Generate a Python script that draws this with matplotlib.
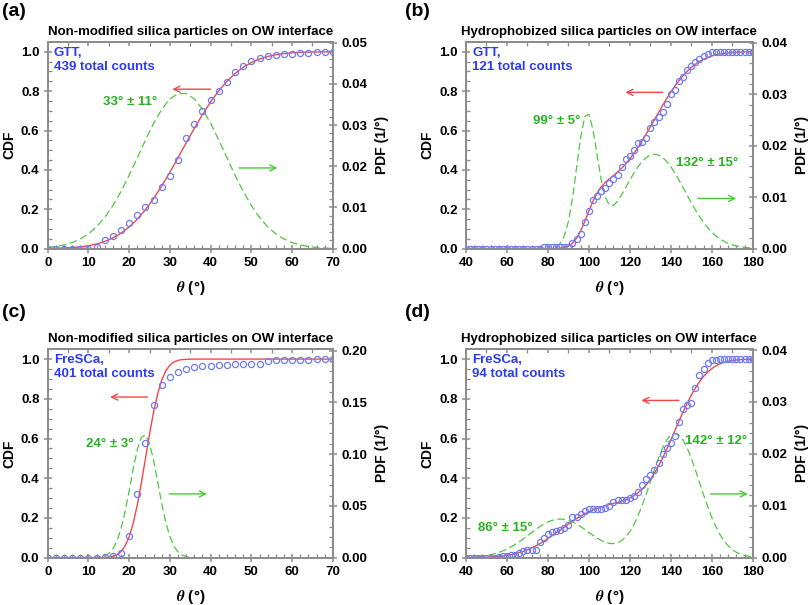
import matplotlib
matplotlib.use("Agg")
import matplotlib.pyplot as plt
import numpy as np
from matplotlib.ticker import MultipleLocator

plt.rcParams['font.family'] = ['Liberation Sans', 'DejaVu Sans']
plt.rcParams['font.weight'] = 'bold'
plt.rcParams['axes.labelweight'] = 'bold'
plt.rcParams['mathtext.fontset'] = 'stix'

# ---------------- data ----------------
# (a) GTT, non-modified silica
theta_a = np.arange(0, 71, 2)
cdf_a = [0, 0, 0, 0, 0, 0, 0.01, 0.042, 0.066, 0.096, 0.13, 0.173, 0.21, 0.247,
         0.313, 0.369, 0.448, 0.563, 0.631, 0.697, 0.755, 0.802, 0.846, 0.895,
         0.926, 0.953, 0.968, 0.98, 0.986, 0.99, 0.991, 0.993, 0.995, 0.997,
         0.998, 1.0]
fit_a = [0.0009, 0.0017, 0.0031, 0.0054, 0.0092, 0.015, 0.0238, 0.0366, 0.0544,
         0.0785, 0.1101, 0.1497, 0.1979, 0.2546, 0.3186, 0.3886, 0.4624, 0.5376,
         0.6114, 0.6814, 0.7454, 0.8021, 0.8503, 0.8899, 0.9215, 0.9456, 0.9634,
         0.9762, 0.985, 0.9908, 0.9946, 0.9969, 0.9983, 0.9991, 0.9995, 0.9998]
pdf_a = [0.0003, 0.00053, 0.0009, 0.00148, 0.00234, 0.00359, 0.00531, 0.00759,
         0.01045, 0.01389, 0.01782, 0.02206, 0.02636, 0.0304, 0.03382, 0.03631,
         0.03763, 0.03763, 0.03631, 0.03382, 0.0304, 0.02636, 0.02206, 0.01782,
         0.01389, 0.01045, 0.00759, 0.00531, 0.00359, 0.00234, 0.00148, 0.0009,
         0.00053, 0.0003, 0.00016, 0.00009]

# (b) GTT, hydrophobized silica
theta_b = np.arange(40, 181, 2)
cdf_b = [0] * 19 + [0.008, 0.008, 0.008, 0.008, 0.008, 0.008, 0.008, 0.027,
         0.047, 0.073, 0.134, 0.19, 0.247, 0.267, 0.294, 0.306, 0.333, 0.355,
         0.376, 0.416, 0.453, 0.472, 0.503, 0.536, 0.54, 0.563, 0.612, 0.645,
         0.667, 0.694, 0.736, 0.785, 0.804, 0.851, 0.87, 0.905, 0.926, 0.948,
         0.964, 0.978, 0.99] + [1.0] * 11
fit_b = [0] * 18 + [0.0001, 0.0001, 0.0002, 0.0004, 0.0009, 0.0022, 0.0055,
         0.0129, 0.0277, 0.0531, 0.0907, 0.1385, 0.1909, 0.2407, 0.2822, 0.3137,
         0.3367, 0.3548, 0.3715, 0.389, 0.4086, 0.431, 0.4562, 0.4842, 0.5149,
         0.5478, 0.5825, 0.6185, 0.655, 0.6915, 0.7275, 0.7622, 0.7951, 0.8258,
         0.8538, 0.879, 0.9013, 0.9206, 0.9371, 0.9509, 0.9622, 0.9714, 0.9786,
         0.9843, 0.9887, 0.9919, 0.9943, 0.9961, 0.9974, 0.9982, 0.9988, 0.9993,
         0.9995]
pdf_b = [0] * 18 + [0.00002, 0.00003, 0.00006, 0.00015, 0.00039, 0.00101,
         0.00245, 0.00525, 0.0098, 0.01574, 0.02169, 0.02565, 0.02612, 0.02314,
         0.01822, 0.01337, 0.00999, 0.00846, 0.00838, 0.00921, 0.01047, 0.01187,
         0.01332, 0.01469, 0.01592, 0.01694, 0.01771, 0.01819, 0.01835, 0.01819,
         0.01771, 0.01694, 0.01592, 0.01469, 0.01332, 0.01187, 0.01039, 0.00893,
         0.00754, 0.00626, 0.0051, 0.00409, 0.00322, 0.00248, 0.00188, 0.00141,
         0.00103, 0.00074, 0.00052, 0.00036, 0.00025, 0.00017, 0.00011]

# (c) FreSCa, non-modified silica
theta_c = np.arange(0, 71, 2)
cdf_c = [0] * 7 + [0.005, 0.008, 0.025, 0.107, 0.323, 0.58, 0.767, 0.871, 0.91,
         0.936, 0.949, 0.958, 0.963, 0.966, 0.97, 0.971, 0.973, 0.975, 0.975,
         0.975, 0.992, 0.993, 0.995, 0.997, 0.997, 0.997, 0.998, 0.998, 1.0]
theta_c_fit = [0, 5, 10, 12, 13, 14, 15, 16, 17, 18, 19, 20, 21, 22, 23, 24, 25,
               26, 27, 28, 29, 30, 31, 32, 33, 34, 35, 36, 38, 40, 50, 60, 70]
fit_c = [0, 0, 0.00001, 0.0001, 0.0003, 0.0009, 0.0025, 0.0062, 0.0144, 0.0304,
         0.0591, 0.1056, 0.1743, 0.266, 0.3773, 0.5, 0.6227, 0.734, 0.8257,
         0.8944, 0.9409, 0.9696, 0.9856, 0.9938, 0.9975, 0.9991, 0.9997, 0.9999,
         1, 1, 1, 1, 1]
pdf_c = [0, 0, 0.00003, 0.00027, 0.00073, 0.0018, 0.00408, 0.00847, 0.0161,
         0.028, 0.0445, 0.0647, 0.086, 0.1046, 0.1164, 0.1185, 0.1104, 0.094,
         0.0733, 0.0522, 0.034, 0.0203, 0.0111, 0.00553, 0.00252, 0.00105, 0.0004,
         0.00014, 0.00002, 0, 0, 0, 0]

# (d) FreSCa, hydrophobized silica
theta_d = np.arange(40, 181, 2)
cdf_d = [0] * 8 + [0.003, 0.008, 0.01, 0.012, 0.014, 0.022, 0.034, 0.037, 0.037,
         0.037, 0.078, 0.098, 0.118, 0.129, 0.132, 0.14, 0.152, 0.164, 0.203,
         0.206, 0.22, 0.237, 0.245, 0.247, 0.247, 0.247, 0.252, 0.26, 0.281,
         0.291, 0.291, 0.291, 0.3, 0.31, 0.33, 0.364, 0.398, 0.416, 0.44, 0.479,
         0.523, 0.552, 0.577, 0.613, 0.682, 0.75, 0.77, 0.778, 0.854, 0.919,
         0.949, 0.981, 0.993, 0.995] + [1.0] * 9
fit_d = [0.0003, 0.0005, 0.0007, 0.0011, 0.0016, 0.0023, 0.0033, 0.0046, 0.0064,
         0.0087, 0.0116, 0.0153, 0.0199, 0.0255, 0.0322, 0.0401, 0.0491, 0.0593,
         0.0707, 0.0831, 0.0965, 0.1106, 0.1252, 0.14, 0.1548, 0.1694, 0.1835,
         0.1969, 0.2094, 0.2208, 0.2311, 0.2402, 0.2484, 0.2555, 0.2618, 0.2675,
         0.2729, 0.2784, 0.2845, 0.2918, 0.3008, 0.3121, 0.3265, 0.3446, 0.3669,
         0.3938, 0.4254, 0.4618, 0.5021, 0.546, 0.5923, 0.64, 0.6877, 0.734,
         0.7779, 0.8183, 0.8543, 0.8857, 0.9124, 0.9343, 0.9519, 0.9656, 0.976,
         0.9836, 0.9891, 0.9929, 0.9955, 0.9972, 0.9983, 0.999, 0.9994]
pdf_d = [0.00007, 0.0001, 0.00015, 0.00021, 0.0003, 0.00042, 0.00057, 0.00077,
         0.00101, 0.00131, 0.00166, 0.00207, 0.00254, 0.00306, 0.00363, 0.00422,
         0.00482, 0.00541, 0.00597, 0.00646, 0.00688, 0.00719, 0.00738, 0.00745,
         0.00738, 0.00719, 0.00688, 0.00647, 0.00598, 0.00544, 0.00487, 0.00431,
         0.00379, 0.00333, 0.00297, 0.00275, 0.00271, 0.00288, 0.0033, 0.004,
         0.00503, 0.00639, 0.00807, 0.01005, 0.01227, 0.01461, 0.01698, 0.0192,
         0.02114, 0.02265, 0.02361, 0.02393, 0.0236, 0.02264, 0.02112, 0.01916,
         0.01691, 0.01451, 0.01212, 0.00984, 0.00777, 0.00597, 0.00446, 0.00324,
         0.00229, 0.00157, 0.00105, 0.00068, 0.00043, 0.00027, 0.00016]

titles = ['Non-modified silica particles on OW interface',
          'Hydrophobized silica particles on OW interface',
          'Non-modified silica particles on OW interface',
          'Hydrophobized silica particles on OW interface']
counts_text = ['GTT,\n439 total counts', 'GTT,\n121 total counts',
               'FreSCa,\n401 total counts', 'FreSCa,\n94 total counts']

# colours
c_blue_txt = '#2b3cf2'
c_circle = '#6f7bf5'
c_red = '#f24848'
c_green = '#4cc83c'
c_green_txt = '#27b31f'
c_gray = '#8c8c8c'

fig = plt.figure(figsize=(8.1, 6.05), dpi=100)

rects = [[0.0589, 0.589, 0.352, 0.342],
         [0.5753, 0.589, 0.354, 0.342],
         [0.0589, 0.0782, 0.352, 0.345],
         [0.5753, 0.0782, 0.354, 0.345]]


def setup_axes(rect, xlim, xmaj, xmin_bot, xmin_top, pdf_top, pdf_maj, pdf_min):
    ax = fig.add_axes(rect)
    ax.set_xlim(*xlim)
    ax.set_ylim(0, 1.051)
    ax.xaxis.set_major_locator(MultipleLocator(xmaj))
    ax.xaxis.set_minor_locator(MultipleLocator(xmin_bot))
    ax.yaxis.set_major_locator(MultipleLocator(0.2))
    ax.yaxis.set_minor_locator(MultipleLocator(0.05))
    ax.yaxis.set_major_formatter(lambda v, p: f'{v:.1f}')
    ax2 = ax.twinx()
    ax2.set_ylim(0, pdf_top)
    ax2.yaxis.set_major_locator(MultipleLocator(pdf_maj))
    ax2.yaxis.set_minor_locator(MultipleLocator(pdf_min))
    ax2.yaxis.set_major_formatter(lambda v, p: f'{v:.2f}')
    top = ax.secondary_xaxis('top')
    top.xaxis.set_major_locator(MultipleLocator(xmaj))
    top.xaxis.set_minor_locator(MultipleLocator(xmin_top))
    top.tick_params(labeltop=False)
    for a in (ax, ax2, top):
        for s in a.spines.values():
            s.set_color(c_gray)
            s.set_linewidth(1.3)
        a.tick_params(which='major', direction='inout', length=6, width=1.1,
                      color=c_gray, labelsize=9.5, pad=3)
        a.tick_params(which='minor', direction='in', length=3, width=0.9,
                      color=c_gray)
    top.tick_params(which='major', direction='in', length=3)
    ax.set_xlabel(r'$\theta$ (°)', fontsize=11, labelpad=7)
    ax.set_ylabel('CDF', fontsize=10, fontweight='bold', labelpad=3)
    ax2.set_ylabel('PDF (1/°)', fontsize=10, fontweight='bold', labelpad=6)
    ax.set_zorder(ax2.get_zorder() + 1)
    ax.patch.set_visible(False)
    return ax, ax2


panels = [
    (theta_a, cdf_a, theta_a, fit_a, pdf_a, (0, 70), 10, 2, 5, 0.0502, 0.01, 0.002),
    (theta_b, cdf_b, theta_b, fit_b, pdf_b, (40, 180), 20, 4, 10, 0.0402, 0.01, 0.002),
    (theta_c, cdf_c, theta_c_fit, fit_c, pdf_c, (0, 70), 10, 2, 5, 0.2016, 0.05, 0.01),
    (theta_d, cdf_d, theta_d, fit_d, pdf_d, (40, 180), 20, 4, 10, 0.0402, 0.01, 0.002),
]

# annotation positions: (peak label text, x, y), red arrow (x0, x1, y), green arrow (x0, x1, y)
peak_labels = [
    [('33° ± 11°', 20.3, 0.746)],
    [('99° ± 5°', 84.2, 0.65), ('132° ± 15°', 157.8, 0.433)],
    [('24° ± 3°', 15.3, 0.572)],
    [('86° ± 15°', 59.0, 0.152), ('142° ± 12°', 162.1, 0.589)],
]
red_arrows = [(40.0, 30.6, 0.81), (136.1, 117.8, 0.794),
              (24.5, 15.3, 0.809), (144.0, 125.6, 0.792)]
green_arrows = [(47.0, 56.4, 0.41), (153.2, 171.9, 0.255),
                (29.8, 39.1, 0.321), (159.4, 177.6, 0.321)]
letters = ['(a)', '(b)', '(c)', '(d)']
letter_pos = [(0.002, 0.995), (0.5, 0.995), (0.002, 0.497), (0.5, 0.497)]

for i, p in enumerate(panels):
    th, cdf, thf, fit, pdf, xlim, xmaj, xminb, xmint, ptop, pmaj, pmin = p
    ax, ax2 = setup_axes(rects[i], xlim, xmaj, xminb, xmint, ptop, pmaj, pmin)
    ax2.plot(thf, pdf, color=c_green, lw=0.9, ls=(0, (6, 3)))
    ax.plot(thf, fit, color=c_red, lw=1.0)
    ax.plot(th, cdf, 'o', mfc='none', mec=c_circle, ms=4.4, mew=0.9)
    ax.set_title(titles[i], fontsize=9.5, fontweight='bold', pad=5)
    ax.text(0.022, 0.975, counts_text[i], transform=ax.transAxes, ha='left',
            va='top', color=c_blue_txt, fontsize=9.5, fontweight='bold',
            linespacing=1.25)
    for txt, x, y in peak_labels[i]:
        ax.text(x, y, txt, ha='center', va='center', color=c_green_txt,
                fontsize=9.5, fontweight='bold')
    x0, x1, y = red_arrows[i]
    ax.annotate('', xy=(x1, y), xytext=(x0, y),
                arrowprops=dict(arrowstyle='->', color=c_red, lw=1.0,
                                mutation_scale=11, shrinkA=0, shrinkB=0))
    x0, x1, y = green_arrows[i]
    ax.annotate('', xy=(x1, y), xytext=(x0, y),
                arrowprops=dict(arrowstyle='->', color=c_green, lw=1.0,
                                mutation_scale=11, shrinkA=0, shrinkB=0))
    fig.text(letter_pos[i][0], letter_pos[i][1], letters[i], ha='left',
             va='top', fontsize=14, fontweight='bold')

fig.savefig('out.png', dpi=100)
